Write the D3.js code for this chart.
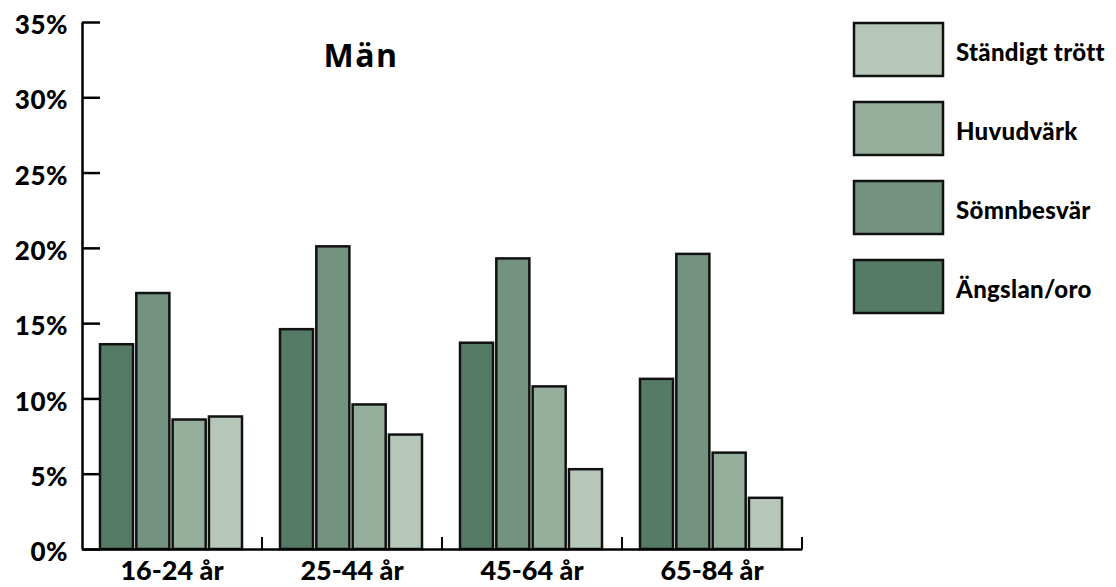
<!DOCTYPE html>
<html>
<head>
<meta charset="utf-8">
<script src="https://cdn.jsdelivr.net/npm/d3@7"></script>
<style>
  body { margin: 0; background: #fff; }
  svg text { font-family: Lato, "Open Sans", sans-serif; font-weight: 900; fill: #000; }
</style>
</head>
<body>
<div id="chart"></div>
<script>
// Age groups along the x axis.
const categories = ["16-24 år", "25-44 år", "45-64 år", "65-84 år"];

// Series in bar order (left to right inside each group).
const series = ["Ängslan/oro", "Sömnbesvär", "Huvudvärk", "Ständigt trött"];

// Percent values per series, one per age group.
const angslan = [13.6, 14.6, 13.7, 11.3];
const somnbesvar = [17.0, 20.1, 19.3, 19.6];
const huvudvark = [8.6, 9.6, 10.8, 6.4];
const standigtTrott = [8.8, 7.6, 5.3, 3.4];

const yTicks = [0, 5, 10, 15, 20, 25, 30, 35];
const legendOrder = ["Ständigt trött", "Huvudvärk", "Sömnbesvär", "Ängslan/oro"];
const title = "Män";

const values = {
    "Ängslan/oro": angslan,
    "Sömnbesvär": somnbesvar,
    "Huvudvärk": huvudvark,
    "Ständigt trött": standigtTrott
};

const colour = d3.scaleOrdinal()
    .domain(series)
    .range(["#557b67", "#73927f", "#94ae9b", "#b6c7b9"]);

const width = 1116;
const height = 587;

// Scales.
const x0 = d3.scaleBand()
    .domain(categories)
    .range([82, 802]);

const x1 = d3.scaleBand()
    .domain(series)
    .range([18, 160])
    .paddingInner(0.09);

const y = d3.scaleLinear()
    .domain([0, 35])
    .range([549, 22]);

const svg = d3.select("#chart").append("svg")
    .attr("width", width)
    .attr("height", height);

// Bars.
const groups = svg.append("g")
    .selectAll("g")
    .data(categories)
    .join("g")
    .attr("transform", d => `translate(${x0(d)}, 0)`);

groups.selectAll("rect")
    .data((c, i) => series.map(s => ({ s, v: values[s][i] })))
    .join("rect")
    .attr("x", d => x1(d.s))
    .attr("width", x1.bandwidth())
    .attr("y", d => y(d.v))
    .attr("height", d => y(0) - y(d.v))
    .attr("fill", d => colour(d.s))
    .attr("stroke", "#111")
    .attr("stroke-width", 2.5);

// Y axis, ticks pointing into the plot.
const yAxis = svg.append("g")
    .attr("transform", "translate(82, 0)")
    .call(d3.axisLeft(y).tickValues(yTicks).tickFormat(d => d + "%")
        .tickSizeInner(-18).tickSizeOuter(0).tickPadding(14));

yAxis.selectAll("text")
    .attr("dy", "0.45em")
    .style("font-size", "26px")
    .style("letter-spacing", "0.5px");

// X axis: labels centred under each group.
const xAxis = svg.append("g")
    .attr("transform", "translate(0, 549)")
    .call(d3.axisBottom(x0).tickSizeInner(0).tickSizeOuter(0).tickPadding(12));

xAxis.selectAll("text")
    .attr("dy", "0.71em")
    .style("font-size", "27px")
    .style("letter-spacing", "0px");

// Small upward ticks at the group boundaries.
svg.append("g")
    .selectAll("line")
    .data(categories)
    .join("line")
    .attr("x1", d => x0(d) + x0.bandwidth())
    .attr("x2", d => x0(d) + x0.bandwidth())
    .attr("y1", y(0))
    .attr("y2", y(0) - 12)
    .attr("stroke", "#000")
    .attr("stroke-width", 2);

svg.selectAll(".domain, .tick line")
    .attr("stroke", "#000")
    .attr("stroke-width", 2.5);

// Title.
svg.append("text")
    .attr("x", 361)
    .attr("y", 67)
    .attr("text-anchor", "middle")
    .style("font-family", "'Open Sans', sans-serif")
    .style("font-weight", 700)
    .style("font-size", "32px")
    .style("letter-spacing", "1.5px")
    .text(title);

// Legend.
const legend = svg.append("g")
    .selectAll("g")
    .data(legendOrder)
    .join("g")
    .attr("transform", (d, i) => `translate(854, ${23 + i * 79})`);

legend.append("rect")
    .attr("width", 89)
    .attr("height", 53)
    .attr("fill", d => colour(d))
    .attr("stroke", "#111")
    .attr("stroke-width", 2.5);

legend.append("text")
    .attr("x", 102)
    .attr("y", 38)
    .style("font-size", "24px")
    .style("letter-spacing", "0.3px")
    .text(d => d);
</script>
</body>
</html>
